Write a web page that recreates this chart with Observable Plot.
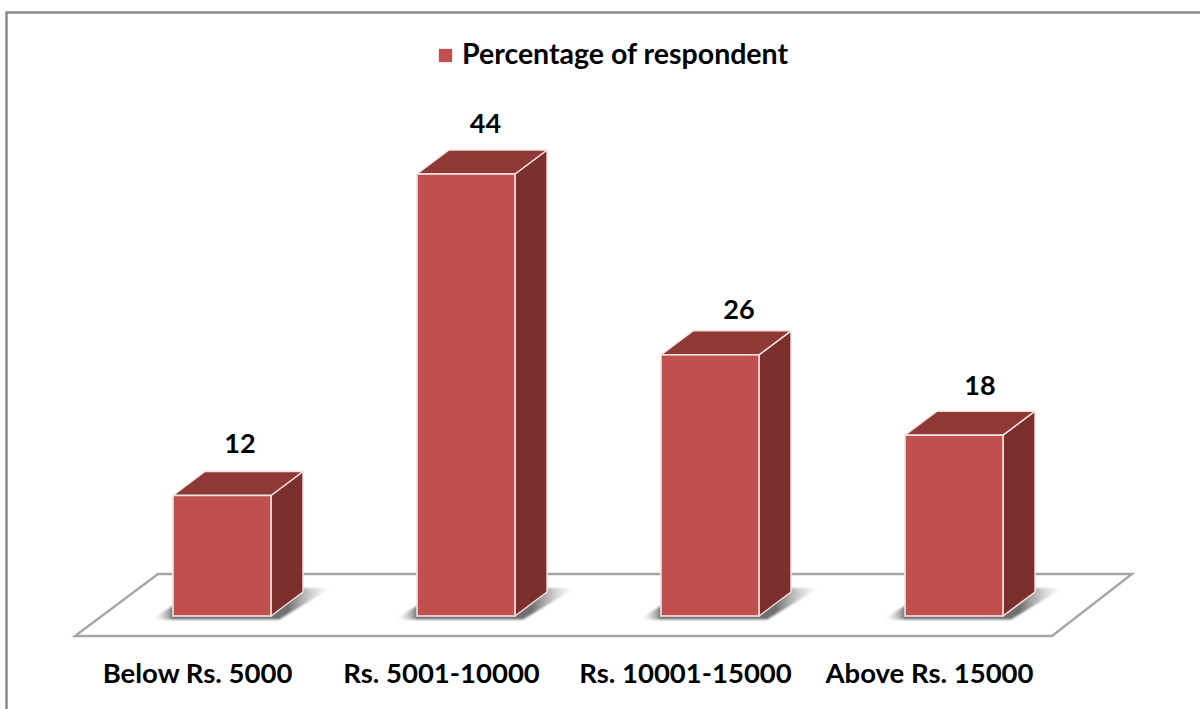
<!DOCTYPE html>
<html>
<head>
<meta charset="utf-8">
<script src="https://cdn.jsdelivr.net/npm/d3@7"></script>
<script src="https://cdn.jsdelivr.net/npm/@observablehq/plot@0.6"></script>
<style>
html,body{margin:0;padding:0;background:#fff;overflow:hidden}
svg{display:block}
</style>
</head>
<body>
<div id="chart"></div>
<script>
const categories = ["Below Rs. 5000", "Rs. 5001-10000", "Rs. 10001-15000", "Above Rs. 15000"];
const percentages = [12, 44, 26, 18];
const seriesName = "Percentage of respondent";

const table = categories.map((category, i) => ({category, value: percentages[i]}));

// layout constants
const FONT = "Lato, 'Open Sans', sans-serif";
const DEPTH_X = 32, DEPTH_Y = 24;
const labelShift = [[17.5, -52], [19, -50], [28.5, -45], [25.5, -49]];

const NS = "http://www.w3.org/2000/svg";
function el(name, attrs, parent) {
  const n = document.createElementNS(NS, name);
  for (const k in attrs) n.setAttribute(k, attrs[k]);
  if (parent) parent.appendChild(n);
  return n;
}

// Floor, shadows and the 3D faces, all placed from the chart's own scales
const scene = Plot.barY(table, {
  x: "category", y: "value",
  render(index, scales, values, dimensions) {
    const g = el("g", {});
    const defs = el("defs", {}, g);
    const grad = el("linearGradient", {id: "shade", x1: 0, x2: 1, y1: 0, y2: 0}, defs);
    [[0, "#fff", 0], [0.13, "#6f6f6f", 1], [0.76, "#6f6f6f", 1], [1, "#bbb", 0]].forEach(([o, c, a]) =>
      el("stop", {offset: o, "stop-color": c, "stop-opacity": a}, grad));
    const blur = el("filter", {id: "soft", x: "-10%", y: "-20%", width: "120%", height: "140%"}, defs);
    el("feGaussianBlur", {stdDeviation: 0.8}, blur);

    const base = scales.y(0);
    const bw = scales.x.bandwidth();
    const first = scales.x(categories[0]);
    const last = scales.x(categories[categories.length - 1]);
    const fl = first - 98, fr = last + bw + 49;
    el("polygon", {
      points: `${fl},${base + 20} ${fr},${base + 20} ${fr + 80},${base - 42} ${fl + 83},${base - 42}`,
      fill: "#fff", stroke: "#a6a6a6", "stroke-width": 2.4
    }, g);
    for (const i of index) {
      const x0 = values.x[i] ?? scales.x(table[i].category);
      const x1 = x0 + bw, top = scales.y(table[i].value);
      el("polygon", {
        points: `${x0 - 23},${base + 3.5} ${x1 + 8},${base + 3.5} ${x1 + DEPTH_X + 28},${base - 28} ${x0 + 30},${base - 28}`,
        fill: "url(#shade)", filter: "url(#soft)"
      }, g);
      el("polygon", {
        points: `${x1},${top} ${x1 + DEPTH_X},${top - DEPTH_Y} ${x1 + DEPTH_X},${base - DEPTH_Y} ${x1},${base}`,
        fill: "#7b302e", stroke: "#f3e4e3", "stroke-width": 1.4, "stroke-linejoin": "round"
      }, g);
      el("polygon", {
        points: `${x0},${top} ${x0 + DEPTH_X},${top - DEPTH_Y} ${x1 + DEPTH_X},${top - DEPTH_Y} ${x1},${top}`,
        fill: "#8f3937", stroke: "#f3e4e3", "stroke-width": 1.4, "stroke-linejoin": "round"
      }, g);
    }
    return g;
  }
});

const plot = Plot.plot({
  width: 1200, height: 709,
  marginTop: 174, marginBottom: 93, marginLeft: 26, marginRight: 51,
  x: {type: "band", domain: categories, padding: 0.6, label: null},
  y: {domain: [0, 44], axis: null, label: null},
  style: {fontFamily: FONT, background: "#fff"},
  marks: [
    Plot.frame({stroke: "#888888", strokeWidth: 2.4, insetLeft: -20, insetTop: -162, insetRight: -80, insetBottom: -130}),
    scene,
    Plot.barY(table, {x: "category", y: "value", fill: "#c0504d", stroke: "#f3e4e3", strokeWidth: 1.6}),
    ...table.map((d, i) => Plot.text([d], {
      x: "category", y: "value", text: d => String(d.value),
      dx: labelShift[i][0], dy: labelShift[i][1],
      fontSize: 27, fontWeight: 700, fill: "#000", fontFamily: FONT
    })),
    Plot.axisX({
      anchor: "bottom", tickSize: 0, tickPadding: 47, dx: -25, label: null,
      fontSize: 27.5, fontWeight: 700, fill: "#000", fontFamily: FONT
    }),
    Plot.dot([seriesName], {
      frameAnchor: "top-left", dx: 419, dy: -119, symbol: "square", r: 7.5, fill: "#c0504d"
    }),
    Plot.text([seriesName], {
      frameAnchor: "top-left", dx: 435.5, dy: -120, textAnchor: "start",
      text: d => d, fontSize: 28.5, fontWeight: 700, fill: "#000", fontFamily: FONT,
      lineAnchor: "middle"
    })
  ]
});
document.getElementById("chart").appendChild(plot);
</script>
</body>
</html>
